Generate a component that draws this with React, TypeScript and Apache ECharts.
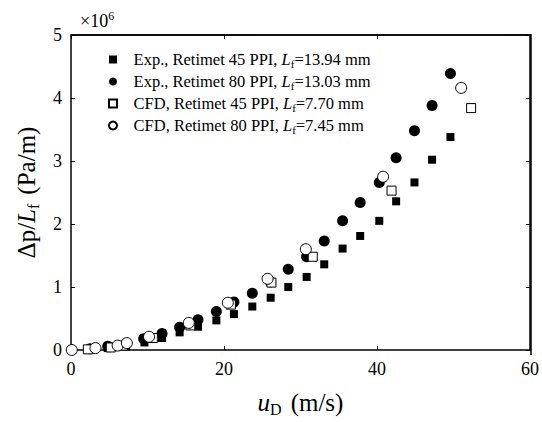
import React, { useEffect, useRef } from "react";
import * as echarts from "echarts";

const seriesNames = [
  "Exp., Retimet 45 PPI",
  "Exp., Retimet 80 PPI",
  "CFD, Retimet 45 PPI",
  "CFD, Retimet 80 PPI",
];
const lfValues = ["13.94", "13.03", "7.70", "7.45"];

// y values in units of 10^6 Pa/m
const exp45: [number, number][] = [
  [2.5, 0.01], [4.8, 0.03], [7.2, 0.06], [9.6, 0.12], [11.9, 0.19], [14.2, 0.28],
  [16.6, 0.37], [19.0, 0.47], [21.3, 0.57], [23.7, 0.69], [26.1, 0.83], [28.4, 1.0],
  [30.8, 1.16], [33.1, 1.36], [35.5, 1.61], [37.8, 1.81], [40.3, 2.05], [42.5, 2.36],
  [44.9, 2.66], [47.2, 3.02], [49.6, 3.38],
];
const exp80: [number, number][] = [
  [2.5, 0.02], [4.8, 0.06], [7.2, 0.1], [9.5, 0.18], [11.9, 0.26], [14.2, 0.36],
  [16.6, 0.48], [19.0, 0.61], [21.3, 0.76], [23.7, 0.9], [26.1, 1.08], [28.4, 1.28],
  [30.8, 1.48], [33.1, 1.73], [35.5, 2.05], [37.8, 2.34], [40.3, 2.66], [42.5, 3.05],
  [44.9, 3.48], [47.2, 3.88], [49.6, 4.39],
];
const cfd45: [number, number][] = [
  [2.2, 0.01], [5.2, 0.04], [6.8, 0.07], [10.7, 0.19], [15.6, 0.39], [20.9, 0.72],
  [26.2, 1.07], [31.6, 1.48], [41.9, 2.53], [52.3, 3.84],
];
const cfd80: [number, number][] = [
  [0.1, 0.0], [3.2, 0.03], [6.1, 0.07], [7.3, 0.11], [10.2, 0.21], [15.4, 0.43],
  [20.5, 0.75], [25.7, 1.13], [30.7, 1.6], [40.8, 2.75], [51.0, 4.16],
];

const xTicks = { min: 0, max: 60, interval: 20 };
const yTicks = { min: 0, max: 5, interval: 1 };

const FONT = "Liberation Serif";
const GRID = { left: 71, top: 35, right: 11, bottom: 67 };
const W = 542;
const H = 422;

export default function App() {
  const ref = useRef<HTMLDivElement>(null);
  useEffect(() => {
    if (!ref.current) return;
    const chart = echarts.init(ref.current, null, { renderer: "svg" });
    const axisLine = { show: true, onZero: false, lineStyle: { color: "#000", width: 1.5 } };
    const axisTick = { show: true, inside: true, length: 4, lineStyle: { color: "#000", width: 1 } };
    const datasets = [exp45, exp80, cfd45, cfd80];
    const symbols = ["rect", "circle", "rect", "circle"];
    const sizes = [8, 11, 9, 11];
    const filled = [true, true, false, false];
    const nameRich = (fs: number, sub: number, pad: number) => ({
      i: { fontStyle: "italic", fontSize: fs, fontFamily: FONT, color: "#000" },
      s: { fontSize: sub, fontFamily: FONT, color: "#000", padding: [pad, 0, 0, 0] },
      g: { width: 9, fontSize: fs },
    });
    const dataSeries = datasets.map((d, i) => ({
      type: "scatter",
      name: seriesNames[i],
      data: d,
      symbol: symbols[i],
      symbolSize: sizes[i],
      xAxisIndex: 0,
      yAxisIndex: 0,
      z: filled[i] ? 2 : 3,
      itemStyle: filled[i]
        ? { color: "#000", borderColor: "#000", borderWidth: 0, opacity: 1 }
        : { color: "#fff", borderColor: "#000", borderWidth: 1, opacity: 1 },
    }));
    const mirrorSeries = {
      type: "scatter",
      name: "mirror",
      data: exp45,
      xAxisIndex: 1,
      yAxisIndex: 1,
      symbolSize: 0,
      silent: true,
      itemStyle: { opacity: 0 },
    };
    const pw = W - GRID.left - GRID.right;
    const ph = H - GRID.top - GRID.bottom;
    chart.setOption({
      animation: false,
      backgroundColor: "#fff",
      textStyle: { fontFamily: FONT },
      grid: { ...GRID, containLabel: false },
      xAxis: [
        {
          type: "value",
          min: xTicks.min,
          max: xTicks.max,
          interval: xTicks.interval,
          axisLine,
          axisTick,
          splitLine: { show: false },
          axisLabel: { color: "#000", fontSize: 18, fontFamily: FONT, margin: 10 },
          name: "{i|u}{s|D}{g| }(m/s)",
          nameLocation: "middle",
          nameGap: 38,
          nameTextStyle: {
            color: "#000",
            fontSize: 25,
            fontFamily: FONT,
            rich: nameRich(25, 16, 13),
          },
        },
        {
          type: "value",
          show: true,
          position: "top",
          min: xTicks.min,
          max: xTicks.max,
          interval: xTicks.interval,
          axisLine,
          axisTick,
          axisLabel: { show: false },
          splitLine: { show: false },
        },
      ],
      yAxis: [
        {
          type: "value",
          min: yTicks.min,
          max: yTicks.max,
          interval: yTicks.interval,
          axisLine,
          axisTick,
          splitLine: { show: false },
          axisLabel: { color: "#000", fontSize: 18, fontFamily: FONT, margin: 9 },
          name: "Δp/{i|L}{s|f}{g| }(Pa/m)",
          nameLocation: "middle",
          nameGap: 30,
          nameRotate: 90,
          nameTextStyle: {
            color: "#000",
            fontSize: 25,
            fontFamily: FONT,
            rich: nameRich(25, 16, 13),
          },
        },
        {
          type: "value",
          show: true,
          position: "right",
          min: yTicks.min,
          max: yTicks.max,
          interval: yTicks.interval,
          axisLine,
          axisTick,
          axisLabel: { show: false },
          splitLine: { show: false },
        },
      ],
      legend: {
        orient: "vertical",
        left: 103,
        top: 46,
        itemGap: 4,
        itemWidth: 8,
        itemHeight: 8,
        data: seriesNames,
        formatter: (name: string) => {
          const i = seriesNames.indexOf(name);
          return `\u2002\u2009${name}, {i|L}{s|f}=${lfValues[i]} mm`;
        },
        textStyle: {
          color: "#000",
          fontSize: 16.5,
          fontFamily: FONT,
          rich: {
            i: { fontStyle: "italic", fontSize: 16.5, fontFamily: FONT, color: "#000" },
            s: { fontSize: 11, fontFamily: FONT, color: "#000", padding: [8, 0, 0, 0] },
          },
        },
      },
      graphic: [
        {
          type: "polyline",
          silent: true,
          z: 100,
          shape: {
            points: [
              [GRID.left, GRID.top],
              [GRID.left + pw, GRID.top],
              [GRID.left + pw, GRID.top + ph],
            ],
          },
          style: { fill: null, stroke: "#000", lineWidth: 1.5 },
        },
        {
          type: "text",
          left: 80,
          top: 10,
          style: {
            text: "×10{sup|6}",
            fill: "#000",
            font: `18px '${FONT}'`,
            rich: {
              sup: { fontSize: 12, fontFamily: FONT, fill: "#000", padding: [0, 0, 10, 0] },
            },
          },
        },
      ],
      series: [...dataSeries, mirrorSeries],
    });
    return () => chart.dispose();
  }, []);
  return (
    <div style={{ position: "absolute", left: 0, top: 0 }}>
      <div ref={ref} style={{ width: W, height: H }} />
    </div>
  );
}
